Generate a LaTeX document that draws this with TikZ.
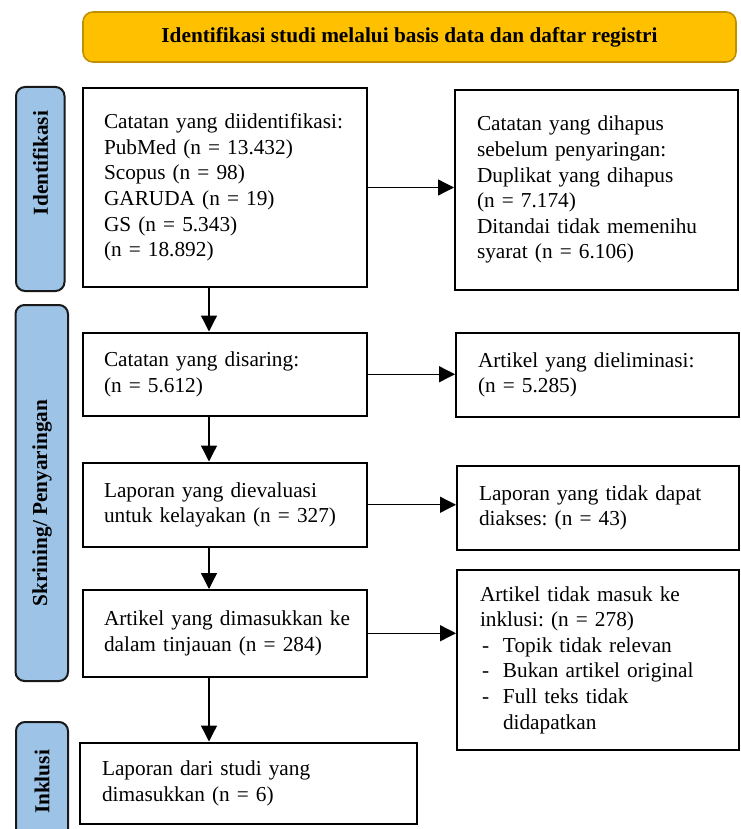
\documentclass[tikz,border=0pt]{standalone}
\usepackage{fontspec}
\setmainfont{Liberation Serif}
\frenchspacing
\usetikzlibrary{arrows.meta}
\definecolor{sideblue}{HTML}{9DC3E6}
\definecolor{bannerfill}{HTML}{FFC000}
\definecolor{bannerline}{HTML}{BF9000}
\begin{document}
\frenchspacing
\begin{tikzpicture}[x=0.5pt,y=-0.5pt,
  txt/.style={font=\fontsize{10.65pt}{12.8pt}\selectfont},
  box/.style={txt, draw=black, line width=1pt, rectangle, align=left, inner ysep=0pt, inner xsep=11pt},
  side/.style={draw=black!90, line width=1pt, fill=sideblue, rounded corners=4.5pt, rotate=90, inner sep=0pt},
  sidetext/.style={font=\fontsize{10.65pt}{12.8pt}\selectfont\bfseries, rotate=90, inner sep=0pt},
  banner/.style={draw=bannerline, line width=0.8pt, fill=bannerfill, rounded corners=5pt, font=\fontsize{10.65pt}{12.8pt}\selectfont\bfseries, inner sep=0pt},
  arr/.style={line width=0.65pt, -{Triangle[length=8pt,width=8pt]}}
]
\useasboundingbox (0,0) rectangle (740,829);

% banner
\node[banner, minimum width=326.5pt, minimum height=25pt] (ban) at (409.5,37) {Identifikasi studi melalui basis data dan daftar registri};

% side bars
\node[side, minimum width=102pt, minimum height=24.25pt] (s1) at (40.25,189) {};
\node[sidetext] (t1) at (40.5,163) {Identifikasi};
\node[side, minimum width=188pt, minimum height=26.25pt] (s2) at (41.75,493) {};
\node[sidetext] (t2) at (42,503) {Skrining/ Penyaringan};
\node[side, minimum width=64pt, minimum height=26pt] (s3) at (42,786) {};
\node[sidetext] (t3) at (42,782) {Inklusi};

% left column
\node[box, inner xsep=10.5pt, text width=121pt, minimum height=99pt] (b1) at (225,187.5) {\mbox{Catatan yang diidentifikasi:}\\PubMed (n = 13.432)\\Scopus (n = 98)\\GARUDA (n = 19)\\GS (n = 5.343)\\(n = 18.892)};
\node[box, inner xsep=10.5pt, text width=121pt, minimum height=41.75pt] (b3) at (225,374.25) {Catatan yang disaring:\\(n = 5.612)};
\node[box, inner xsep=10.5pt, text width=121pt, minimum height=42.25pt] (b5) at (225,504.75) {Laporan yang dievaluasi\\\mbox{untuk kelayakan (n = 327)}};
\node[box, inner xsep=10.5pt, text width=121pt, minimum height=43.25pt] (b7) at (225,633.25) {\mbox{Artikel yang dimasukkan ke}\\\mbox{dalam tinjauan (n = 284)}};
\node[box, inner xsep=11pt, text width=146.5pt, minimum height=40.75pt] (b9) at (248.5,783.25) {Laporan dari studi yang\\dimasukkan (n = 6)};

% right column
\node[box, inner xsep=11pt, text width=119.5pt, minimum height=99.75pt] (b2) at (596.5,189.75) {Catatan yang dihapus\\sebelum penyaringan:\\Duplikat yang dihapus\\(n = 7.174)\\\mbox{Ditandai tidak memenihu}\\syarat (n = 6.106)};
\node[box, inner xsep=11pt, text width=119.5pt, minimum height=41.75pt] (b4) at (597.5,374.75) {\mbox{Artikel yang dieliminasi:}\\(n = 5.285)};
\node[box, inner xsep=11pt, text width=119pt, minimum height=42pt] (b6) at (598,508) {\mbox{Laporan yang tidak dapat}\\diakses: (n = 43)};
\node[box, inner xsep=11.5pt, text width=118pt, minimum height=90pt] (b8) at (598,660) {Artikel tidak masuk ke\\inklusi: (n = 278)\\\hspace*{1pt}\makebox[10.5pt][l]{-}Topik tidak relevan\\\hspace*{1pt}\makebox[10.5pt][l]{-}\mbox{Bukan artikel original}\\\hspace*{1pt}\makebox[10.5pt][l]{-}Full teks tidak\\\hspace*{11.5pt}didapatkan};

% connectors
\coordinate (ax) at (209,0);
\draw[arr] (b1.south -| ax) -- (b3.north -| ax);
\draw[arr] (b3.south -| ax) -- (b5.north -| ax);
\draw[arr] (b5.south -| ax) -- (b7.north -| ax);
\draw[arr] (b7.south -| ax) -- (b9.north -| ax);
\draw[arr] (b1.east) -- (b1.east -| b2.west);
\draw[arr] (b3.east) -- (b3.east -| b4.west);
\draw[arr] (b5.east) -- (b5.east -| b6.west);
\draw[arr] (b7.east) -- (b7.east -| b8.west);
\end{tikzpicture}
\end{document}
